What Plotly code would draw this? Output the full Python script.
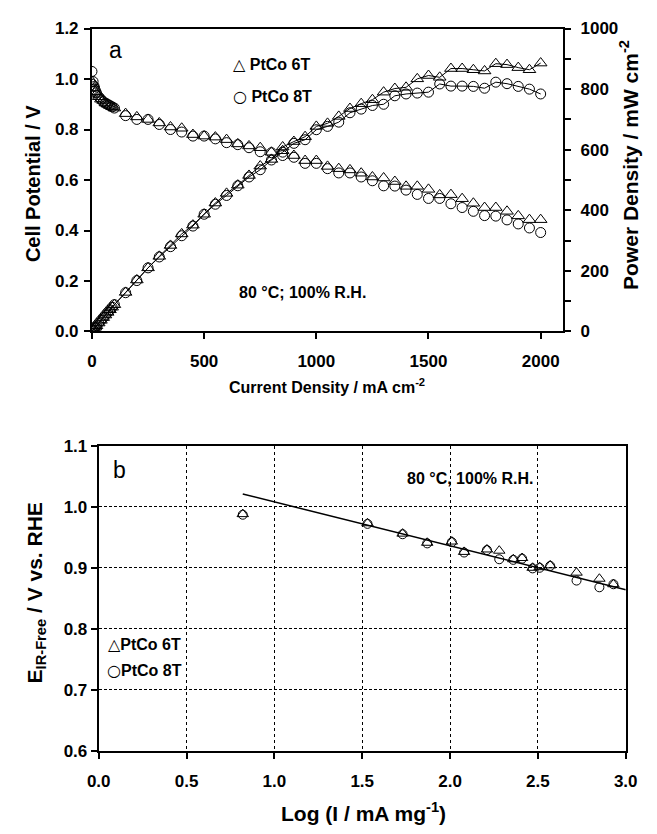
import plotly.graph_objects as go

# ---------------- Panel a data ----------------
current = [0, 5, 10, 15, 20, 30, 40, 50, 60, 70, 80, 90, 100,
           150, 200, 250, 300, 350, 400, 450, 500, 550, 600,
           650, 700, 750, 800, 850, 900, 950, 1000,
           1050, 1100, 1150, 1200, 1250, 1300, 1350, 1400, 1450, 1500,
           1550, 1600, 1650, 1700, 1750, 1800, 1850, 1900, 1950, 2000]

volt_6t = [0.99, 0.98, 0.965, 0.95, 0.94, 0.93, 0.92, 0.915, 0.905, 0.90, 0.895, 0.89, 0.885,
           0.863, 0.85, 0.84, 0.826, 0.81, 0.805, 0.78, 0.774, 0.77, 0.76,
           0.743, 0.735, 0.728, 0.71, 0.716, 0.697, 0.677, 0.677,
           0.654, 0.645, 0.64, 0.627, 0.612, 0.608, 0.594, 0.575, 0.575, 0.563,
           0.541, 0.542, 0.526, 0.508, 0.491, 0.491, 0.476, 0.458, 0.443, 0.443]

volt_8t = [1.03, 0.99, 0.97, 0.955, 0.945, 0.93, 0.92, 0.91, 0.905, 0.90, 0.895, 0.89, 0.885,
           0.855, 0.84, 0.84, 0.82, 0.80, 0.79, 0.774, 0.774, 0.763, 0.748,
           0.74, 0.728, 0.712, 0.708, 0.697, 0.69, 0.666, 0.666,
           0.645, 0.628, 0.628, 0.612, 0.597, 0.577, 0.576, 0.56, 0.543, 0.527,
           0.527, 0.506, 0.491, 0.476, 0.459, 0.457, 0.442, 0.426, 0.41, 0.392]

power_6t = [0, 4.9, 9.7, 14.3, 18.8, 27.9, 36.8, 45.8, 54.3, 63.0, 71.6, 80.1, 88.5,
            129, 170, 210, 248, 284, 322, 351, 387, 424, 456,
            483, 515, 546, 568, 609, 627, 643, 677,
            687, 710, 736, 752, 765, 790, 802, 806, 834, 845,
            839, 868, 868, 864, 860, 884, 881, 871, 864, 886]

power_8t = [0, 5.0, 9.7, 14.3, 18.9, 27.9, 36.8, 45.5, 54.3, 63.0, 71.6, 80.1, 88.5,
            128, 168, 210, 246, 280, 316, 348, 387, 420, 449,
            481, 510, 534, 566, 592, 621, 633, 666,
            677, 691, 722, 734, 746, 750, 778, 784, 787, 790,
            817, 810, 810, 809, 803, 823, 818, 809, 800, 784]

# ---------------- Panel b data ----------------
log_i = [0.82, 1.53, 1.73, 1.87, 2.01, 2.08, 2.21, 2.28, 2.36, 2.41, 2.47, 2.51, 2.57, 2.72, 2.85, 2.93]
e_6t = [0.988, 0.973, 0.956, 0.941, 0.943, 0.926, 0.930, 0.928, 0.914, 0.916, 0.900, 0.901, 0.904, 0.892, 0.882, 0.873]
e_8t = [0.987, 0.972, 0.955, 0.940, 0.942, 0.925, 0.929, 0.914, 0.913, 0.915, 0.899, 0.900, 0.903, 0.879, 0.868, 0.873]
fit_x = [0.82, 3.0]
fit_y = [1.021, 0.864]

W, H = 657, 834
FONT = "Liberation Sans, Arial, sans-serif"
SYM = "DejaVu Sans"


def px(x):
    return x / W


def py(y):
    return 1 - y / H


fig = go.Figure()

tri = dict(symbol="triangle-up-open", size=11, color="black", line=dict(width=1, color="black"))
cir = dict(symbol="circle-open", size=10, color="black", line=dict(width=1, color="black"))

# Polarization curves
fig.add_trace(go.Scatter(x=current, y=volt_6t, mode="markers", marker=tri, xaxis="x", yaxis="y"))
fig.add_trace(go.Scatter(x=current, y=volt_8t, mode="markers", marker=cir, xaxis="x", yaxis="y"))
# Power curves
fig.add_trace(go.Scatter(x=current, y=power_6t, mode="lines+markers", marker=tri,
                         line=dict(color="black", width=1), xaxis="x", yaxis="y2"))
fig.add_trace(go.Scatter(x=current, y=power_8t, mode="lines+markers", marker=cir,
                         line=dict(color="black", width=1), xaxis="x", yaxis="y2"))

# Tafel plot
tri_b = dict(tri, size=10)
cir_b = dict(cir, size=9)
fig.add_trace(go.Scatter(x=fit_x, y=fit_y, mode="lines", line=dict(color="black", width=1.5),
                         xaxis="x2", yaxis="y3"))
fig.add_trace(go.Scatter(x=log_i, y=e_6t, mode="markers", marker=tri_b, xaxis="x2", yaxis="y3"))
fig.add_trace(go.Scatter(x=log_i, y=e_8t, mode="markers", marker=cir_b, xaxis="x2", yaxis="y3"))

tickfont = dict(family=FONT, size=17, color="black", weight="bold")

axis_common = dict(showline=True, linecolor="black", linewidth=2, ticks="outside",
                   ticklen=6, tickwidth=1.5, tickcolor="black", zeroline=False,
                   tickfont=tickfont)

fig.update_layout(
    width=W, height=H,
    margin=dict(l=0, r=0, t=0, b=0),
    paper_bgcolor="white", plot_bgcolor="white",
    showlegend=False,
    font=dict(family=FONT, color="black"),
    xaxis=dict(axis_common, domain=[px(83), px(572)], range=[0, 2100],
               tickvals=[0, 500, 1000, 1500, 2000], mirror=True, showgrid=False,
               ticklabelstandoff=7, anchor="y"),
    yaxis=dict(axis_common, domain=[py(330), py(20)], range=[0, 1.2], dtick=0.2,
               tickformat=".1f", showgrid=False, ticklabelstandoff=2, anchor="x"),
    yaxis2=dict(axis_common, overlaying="y", side="right", range=[0, 1000], dtick=200,
                showgrid=False, anchor="x", ticklabelstandoff=6,
                minor=dict(dtick=100, ticks="outside", ticklen=6, tickwidth=1.5,
                           tickcolor="black", showgrid=False)),
    xaxis2=dict(axis_common, domain=[px(90), px(637)], range=[0, 3], dtick=0.5,
                tickformat=".1f", mirror=True, showgrid=True, gridcolor="black",
                gridwidth=1, griddash="dot", ticklabelstandoff=8, anchor="y3"),
    yaxis3=dict(axis_common, domain=[py(759), py(447)], range=[0.6, 1.1], dtick=0.1,
                tickformat=".1f", mirror=True, showgrid=True, gridcolor="black",
                gridwidth=1, griddash="3px,2px", anchor="x2"),
)


def ann(text, x, y, size, weight="bold", angle=0, xanchor="center"):
    fig.add_annotation(text=text, x=px(x), y=py(y), xref="paper", yref="paper",
                       showarrow=False, textangle=angle, xanchor=xanchor, yanchor="middle",
                       font=dict(family=FONT, color="black", size=size, weight=weight))


def sym(ch, size):
    return f'<span style="font-family:{SYM};font-size:{size}px;font-weight:normal">{ch}</span>'


# Panel a texts
ann("a", 107, 42, 23, weight="normal")
ann(sym("△", 16) + " PtCo 6T", 269, 57, 16)
ann(sym("○", 16) + " PtCo 8T", 270, 90, 16)
ann("80 °C; 100% R.H.", 302, 290, 16)
ann("Cell Potential / V", 22, 179, 20, angle=-90)
ann("Power Density / mW cm<sup>-2</sup>", 641, 160, 21, angle=-90)
ann("Current Density / mA cm<sup>-2</sup>", 327, 386, 16)

# Panel b texts
ann("b", 112, 472, 23, weight="normal")
ann("80 °C, 100% R.H.", 475, 480, 16)
ann(sym("△", 16) + "PtCo 6T", 138, 650, 16)
ann(sym("○", 16) + "PtCo 8T", 138, 677, 16)
ann("E<sub>IR-Free</sub> / V vs. RHE", 25, 598, 21, angle=-90)
ann("Log (I / mA mg<sup>-1</sup>)", 365, 822, 21)

fig.write_html("out.html", config={"displayModeBar": False},
               post_script="document.body.style.margin='0';")
